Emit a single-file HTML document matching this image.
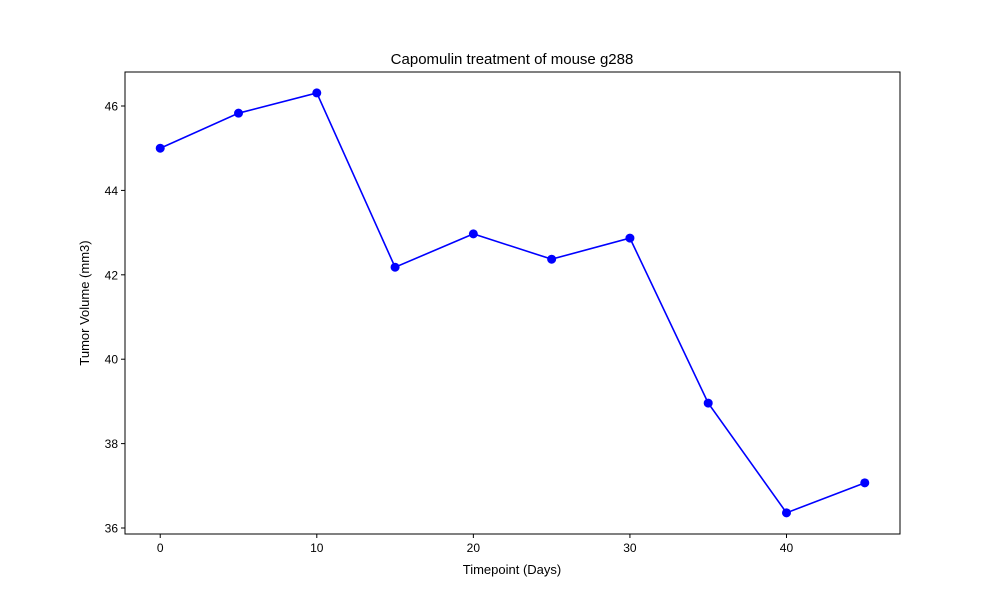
<!DOCTYPE html>
<html><head><meta charset="utf-8"><style>
body{margin:0;background:#fff;}
svg text{font-family:"Liberation Sans","DejaVu Sans",sans-serif;fill:#000;}
</style></head><body>
<svg id="chart" width="1000" height="600">
<rect x="0" y="0" width="1000" height="600" fill="#fff"/>
<text x="512" y="64" font-size="15" text-anchor="middle">Capomulin treatment of mouse g288</text>
<text x="512" y="574" font-size="13" text-anchor="middle">Timepoint (Days)</text>
<text x="0" y="0" font-size="13" text-anchor="middle" transform="translate(89,303) rotate(-90)">Tumor Volume (mm3)</text>
<g id="ticks"></g>
<g id="series"></g>
<rect x="125" y="72" width="775" height="462" fill="none" stroke="#000" stroke-width="1"/>
</svg>
<script>
const timepoints=[0,5,10,15,20,25,30,35,40,45];
const volumes=[45.0,45.83,46.31,42.18,42.97,42.37,42.87,38.96,36.36,37.07];
const xTicks=[0,10,20,30,40];
const yTicks=[36,38,40,42,44,46];
const L=125,R=900,T=72,B=534;
const xMin=-2.25,xMax=47.25,yMin=35.858,yMax=46.806;
const sx=v=>L+(v-xMin)/(xMax-xMin)*(R-L);
const sy=v=>B-(v-yMin)/(yMax-yMin)*(B-T);
const NS='http://www.w3.org/2000/svg';
const tg=document.getElementById('ticks'),sg=document.getElementById('series');
function mk(tag,attrs,parent){const e=document.createElementNS(NS,tag);for(const k in attrs)e.setAttribute(k,attrs[k]);parent.appendChild(e);return e;}
xTicks.forEach(t=>{const x=sx(t);
const l=mk('line',{x1:x,x2:x,y1:B,y2:B+4,stroke:'#000'},tg);


const tx=mk('text',{x:x,y:B+18,'font-size':12,'text-anchor':'middle'},tg);tx.textContent=t;

});
yTicks.forEach(t=>{const y=sy(t);
const l=mk('line',{x1:L-4,x2:L,y1:y,y2:y,stroke:'#000'},tg);


const tx=mk('text',{x:L-7,y:y+4.5,'font-size':12,'text-anchor':'end'},tg);tx.textContent=t;

});
const pts=timepoints.map((t,i)=>sx(t)+','+sy(volumes[i])).join(' ');
const pl=mk('polyline',{points:pts,fill:'none',stroke:'#0000ff','stroke-width':1.6},sg);


timepoints.forEach((t,i)=>{const c=mk('circle',{cx:sx(t),cy:sy(volumes[i]),r:4.5,fill:'#0000ff'},sg);

});
</script>
</body></html>
